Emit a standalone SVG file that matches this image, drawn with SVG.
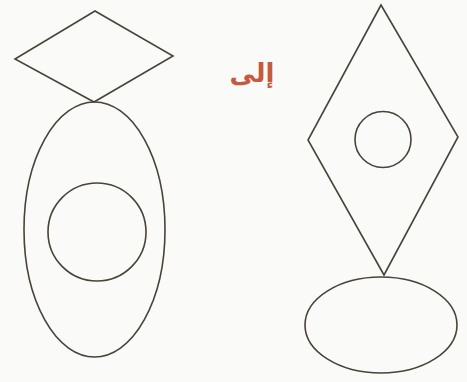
<svg xmlns="http://www.w3.org/2000/svg" width="467" height="382" viewBox="0 0 467 382">
<style>
.s{fill:none;stroke:#4a4338;stroke-width:1.6;stroke-linejoin:miter}
.t{font-family:"DejaVu Sans","Noto Sans",sans-serif;font-weight:bold;font-size:26px;fill:#c55a3f}
</style>
<rect width="467" height="382" fill="#fafaf8"/>
<g id="left-figure">
<polygon class="s" points="95,11 173,56 94,102 15,59"/>
<ellipse class="s" cx="94.5" cy="229.5" rx="70.5" ry="127.5"/>
<circle class="s" cx="97" cy="232" r="49"/>
</g>
<g id="label">
<text class="t" x="252" y="82" text-anchor="middle" direction="rtl">إلى</text>
</g>
<g id="right-figure">
<polygon class="s" points="381,5 458,137 384,275 308,140"/>
<circle class="s" cx="383" cy="139.5" r="28"/>
<ellipse class="s" cx="381" cy="325" rx="76" ry="48"/>
</g>
</svg>
